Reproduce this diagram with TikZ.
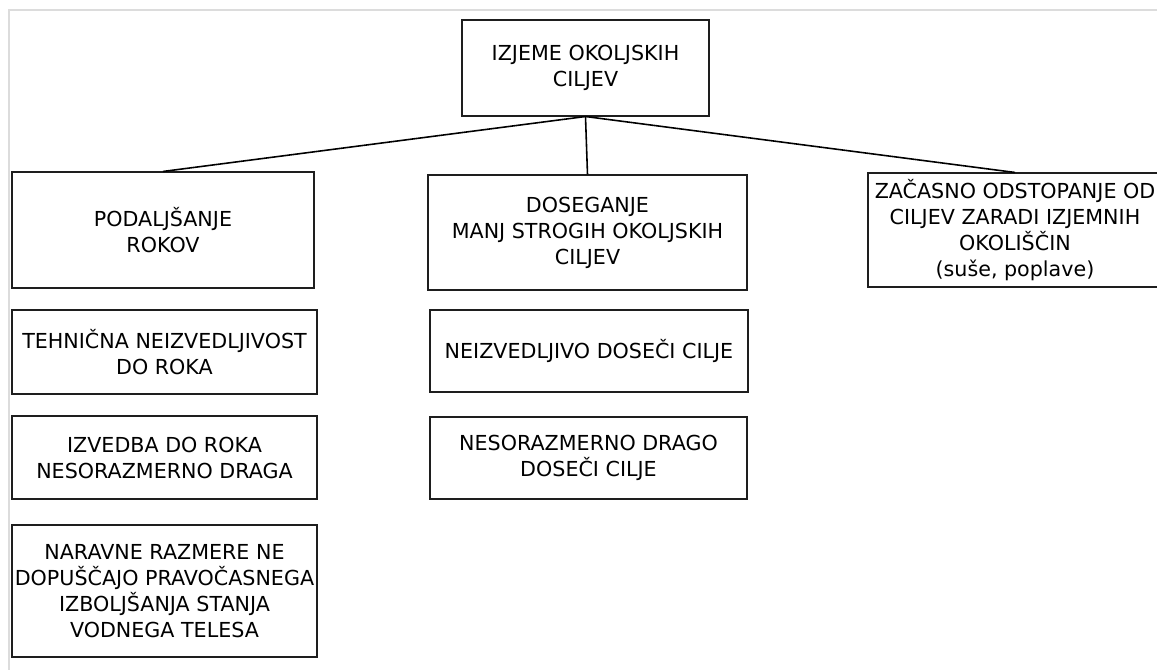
\documentclass[tikz,border=0pt]{standalone}
\usepackage{fontspec}
\setmainfont{DejaVu Sans}
\usepackage{tikz}
\usetikzlibrary{positioning}
\definecolor{framegray}{RGB}{220, 220, 220}
\definecolor{boxline}{RGB}{30, 30, 30}

\begin{document}
\begin{tikzpicture}[
    box/.style={rectangle, draw=boxline, line width=0.6pt, inner sep=0pt, font=\fontsize{11.75}{14.8}\selectfont, align=center},
    conn/.style={line width=0.9pt, black},
]
\useasboundingbox (0,0) rectangle (23.14,13.4);

% okvir
\draw[framegray, line width=0.8pt] (23.14,13.2) -- (0.18,13.2) -- (0.18,0);

\node[box, minimum width=4.94cm, minimum height=1.92cm] (root) at (11.71,12.04) {IZJEME OKOLJSKIH\\CILJEV};

\node[box, minimum width=6.04cm, minimum height=2.32cm] (ext) at (3.26,8.8) {PODALJŠANJE\\ROKOV};
\node[box, minimum width=6.38cm, minimum height=2.30cm] (less) at (11.75,8.75) {DOSEGANJE\\MANJ STROGIH OKOLJSKIH\\CILJEV};
\node[box, minimum width=5.88cm, minimum height=2.28cm] (temp) at (20.30,8.8) {ZAČASNO ODSTOPANJE OD\\CILJEV ZARADI IZJEMNIH\\OKOLIŠČIN\\(suše, poplave)};

\node[box, minimum width=6.10cm, minimum height=1.68cm] (tech) at (3.29,6.36) {TEHNIČNA NEIZVEDLJIVOST\\DO ROKA};
\node[box, minimum width=6.10cm, minimum height=1.66cm] (cost) at (3.29,4.25) {IZVEDBA DO ROKA\\NESORAZMERNO DRAGA};
\node[box, minimum width=6.10cm, minimum height=2.64cm] (nat) at (3.29,1.58) {NARAVNE RAZMERE NE\\DOPUŠČAJO PRAVOČASNEGA\\IZBOLJŠANJA STANJA\\VODNEGA TELESA};

\node[box, minimum width=6.36cm, minimum height=1.64cm] (infeas) at (11.78,6.38) {NEIZVEDLJIVO DOSEČI CILJE};
\node[box, minimum width=6.34cm, minimum height=1.64cm] (dear) at (11.77,4.24) {NESORAZMERNO DRAGO\\DOSEČI CILJE};

% povezave
\draw[conn] (root.south) -- (ext.north);
\draw[conn] (root.south) -- (less.north);
\draw[conn] (root.south) -- (temp.north);

\end{tikzpicture}
\end{document}
